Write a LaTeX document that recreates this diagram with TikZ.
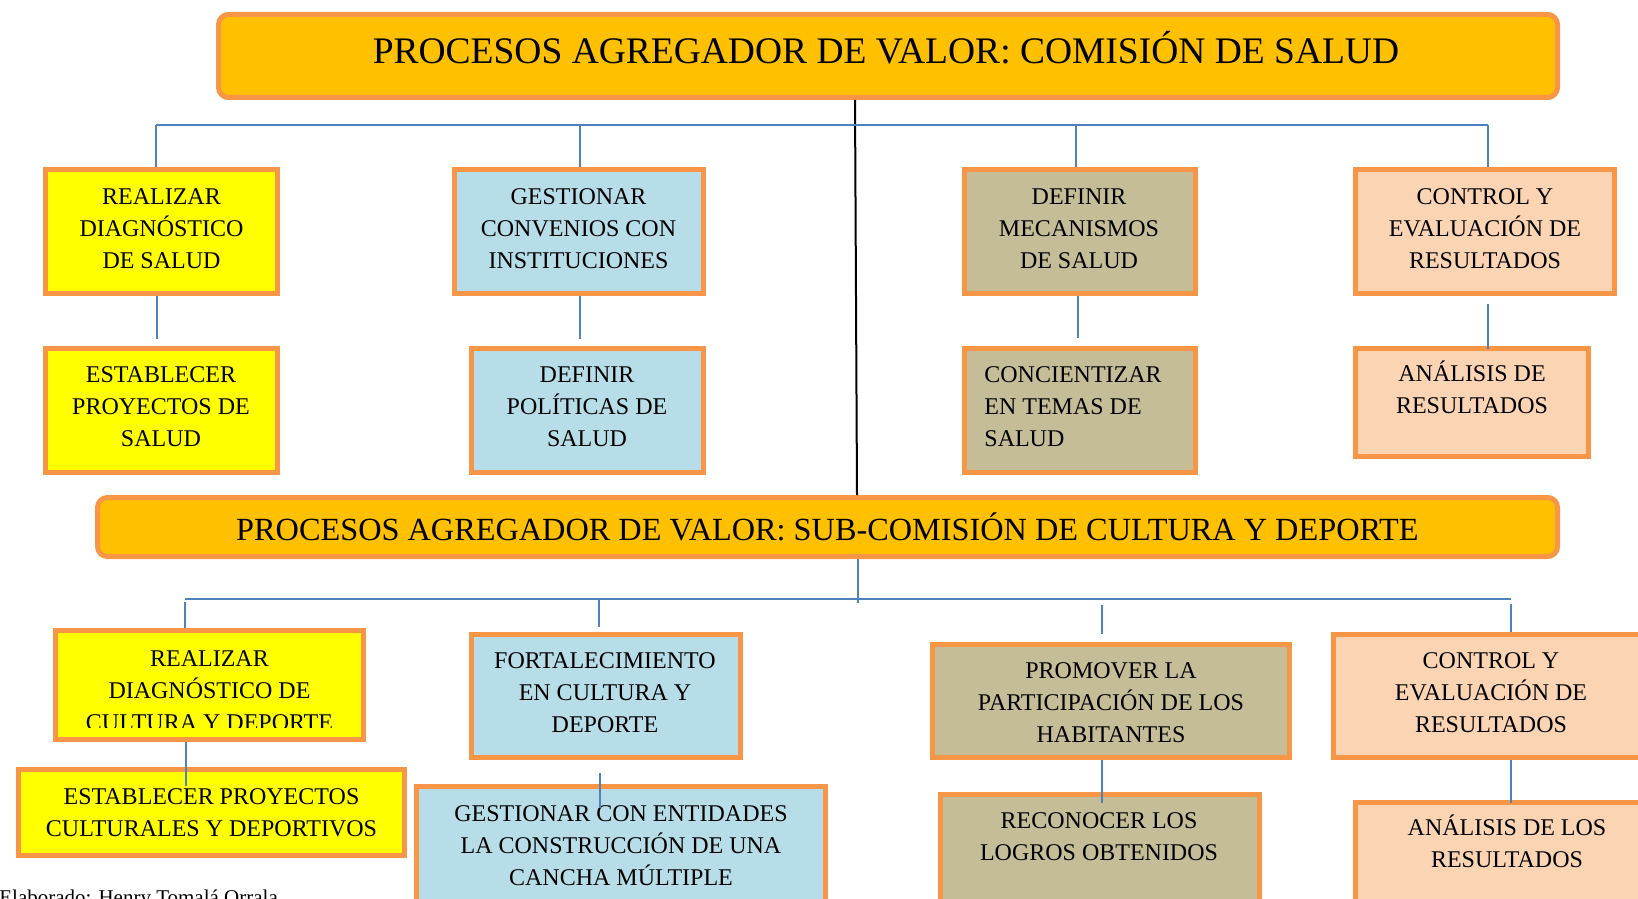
\documentclass[tikz,border=0pt]{standalone}
\usepackage{fontspec}
\setmainfont{Liberation Serif}
\definecolor{goldf}{HTML}{FFC000}
\definecolor{orangeb}{HTML}{F79646}
\definecolor{yellowf}{HTML}{FFFF00}
\definecolor{bluef}{HTML}{B7DEE8}
\definecolor{tanf}{HTML}{C4BD97}
\definecolor{peachf}{HTML}{FBD4B4}
\definecolor{connb}{HTML}{4F81BD}
\newcommand{\mybox}[6]{\node[#2, minimum width={(#5-#3-5)*0.5pt}, minimum height={(#6-#4-5)*0.5pt}] (#1) at ({(#3+#5)/2},{(#4+#6)/2}) {};}
\begin{document}
\begin{tikzpicture}[x=0.5pt,y=-0.5pt,
  pbox/.style={draw=orangeb, line width=2.5pt, inner sep=0pt, fill=#1},
  tbox/.style={draw=orangeb, line width=2.5pt, inner sep=0pt, fill=goldf, rounded corners=5pt},
  txt/.style={align=center, inner sep=0pt, font=\fontsize{12}{16}\selectfont},
  ltxt/.style={align=left, inner sep=0pt, font=\fontsize{12}{16}\selectfont},
  conn/.style={draw=connb, line width=1pt},
  axis/.style={draw=black, line width=1pt}]
\useasboundingbox (0,0) rectangle (1638,899);
\clip (0,0) rectangle (1638,899);

% ---------- top part ----------
\mybox{T1}{tbox}{216}{12}{1560}{100}
\node[anchor=base, inner sep=0pt, font=\fontsize{18.75}{22}\selectfont] (T1t) at (886,63.5) {PROCESOS AGREGADOR DE VALOR: COMISIÓN DE SALUD};

\mybox{A1}{pbox=yellowf}{43}{167}{280}{296}
\mybox{B1}{pbox=bluef}{452}{167}{706}{296}
\mybox{C1}{pbox=tanf}{962}{167}{1198}{296}
\mybox{D1}{pbox=peachf}{1353}{167}{1617}{296}

\mybox{A2}{pbox=yellowf}{43}{346}{280}{475}
\mybox{B2}{pbox=bluef}{469}{346}{706}{475}
\mybox{C2}{pbox=tanf}{962}{346}{1198}{475}
\mybox{D2}{pbox=peachf}{1353}{346}{1591}{459}

\node[txt] (A1t) at (161.5,228.5) {REALIZAR\\DIAGNÓSTICO\\DE SALUD};
\node[txt] (B1t) at (578.5,228.5) {GESTIONAR\\CONVENIOS CON\\INSTITUCIONES};
\node[txt] (C1t) at (1079,228.5) {DEFINIR\\MECANISMOS\\DE SALUD};
\node[txt] (D1t) at (1485,228.5) {CONTROL Y\\EVALUACIÓN DE\\RESULTADOS};
\node[txt] (A2t) at (161,406.5) {ESTABLECER\\PROYECTOS DE\\SALUD};
\node[txt] (B2t) at (587,406.5) {DEFINIR\\POLÍTICAS DE\\SALUD};
\node[ltxt, anchor=west] (C2t) at (984,406.5) {CONCIENTIZAR\\EN TEMAS DE\\SALUD};
\node[txt] (D2t) at (1472,387.5) {ANÁLISIS DE\\RESULTADOS};

% ---------- bottom part ----------
\mybox{T2}{tbox}{95}{495}{1560}{559}
\node[anchor=base, inner sep=0pt, font=\fontsize{16.15}{20}\selectfont] (T2t) at (827.5,540.5) {PROCESOS AGREGADOR DE VALOR: SUB-COMISIÓN DE CULTURA Y DEPORTE};

\mybox{A3}{pbox=yellowf}{53}{628}{366}{742}
\mybox{B3}{pbox=bluef}{469}{632}{743}{760}
\mybox{C3}{pbox=tanf}{930}{642}{1292}{760}
\mybox{D3}{pbox=peachf}{1331}{632}{1651}{760}

\mybox{A4}{pbox=yellowf}{16}{767}{407}{858}
\mybox{B4}{pbox=bluef}{414}{784}{828}{915}
\mybox{C4}{pbox=tanf}{938}{792}{1262}{915}
\mybox{D4}{pbox=peachf}{1353}{800}{1661}{915}

\begin{scope}
\clip (53,620) rectangle (366,727);
\node[txt] (A3t) at (209.5,690.5) {REALIZAR\\DIAGNÓSTICO DE\\CULTURA Y DEPORTE};
\end{scope}
\node[txt] (B3t) at (605,692.5) {FORTALECIMIENTO\\EN CULTURA Y\\DEPORTE};
\node[txt] (C3t) at (1111,702.5) {PROMOVER LA\\PARTICIPACIÓN DE LOS\\HABITANTES};
\node[txt] (D3t) at (1491,692.5) {CONTROL Y\\EVALUACIÓN DE\\RESULTADOS};
\node[txt] (A4t) at (211.5,812.5) {ESTABLECER PROYECTOS\\CULTURALES Y DEPORTIVOS};
\node[txt] (B4t) at (621,845.5) {GESTIONAR CON ENTIDADES\\LA CONSTRUCCIÓN DE UNA\\CANCHA MÚLTIPLE};
\node[txt] (C4t) at (1099,836.5) {RECONOCER LOS\\LOGROS OBTENIDOS};
\node[txt] (D4t) at (1507,841.5) {ANÁLISIS DE LOS\\RESULTADOS};

\node[anchor=base west, inner sep=0pt, font=\fontsize{10.5}{13}\selectfont] (elab) at (-1,904) {Elaborado: Henry Tomalá Orrala};

% ---------- connectors ----------
\draw[axis] (T1.south -| 855,0) -- (T2.north -| 857,0);

\coordinate (barL) at (156,125);
\coordinate (barB) at (580,125);
\coordinate (barC) at (1076,125);
\coordinate (barR) at (1488,125);
\draw[conn] (barL) -- (barR);
\draw[conn] (barL) -- (barL |- A1.north);
\draw[conn] (barB) -- (barB |- B1.north);
\draw[conn] (barC) -- (barC |- C1.north);
\draw[conn] (barR) -- (barR |- D1.north);

\draw[conn, shorten >=3.5pt] (A1.south -| 157,0) -- (A2.north -| 157,0);
\draw[conn, shorten >=3.5pt] (B1.south -| 580,0) -- (B2.north -| 580,0);
\draw[conn, shorten >=4pt] (C1.south -| 1078,0) -- (C2.north -| 1078,0);
\draw[conn, shorten <=4pt, shorten >=-1.5pt] (D1.south -| 1488,0) -- (D2.north -| 1488,0);

\coordinate (bar2M) at (858,603);
\coordinate (bar2L) at (185,599);
\coordinate (bar2R) at (1511,599);
\coordinate (v3a) at (185,602);
\coordinate (v3b) at (599,598);
\coordinate (v3c) at (1101.5,605);
\coordinate (v3d) at (1511,604);
\draw[conn] (T2.south -| 858,0) -- (bar2M);
\draw[conn] (bar2L) -- (bar2R);
\draw[conn] (v3a) -- (v3a |- A3.north);
\draw[conn, shorten >=2.5pt] (v3b) -- (v3b |- B3.north);
\draw[conn, shorten >=4pt] (v3c) -- (v3c |- C3.north);
\draw[conn] (v3d) -- (v3d |- D3.north);

\draw[conn, shorten >=-9.5pt] (A3.south -| 186,0) -- (A4.north -| 186,0);
\draw[conn, shorten <=6.5pt, shorten >=-12pt] (B3.south -| 600,0) -- (B4.north -| 600,0);
\draw[conn, shorten >=-5.5pt] (C3.south -| 1102,0) -- (C4.north -| 1102,0);
\draw[conn, shorten >=-1.5pt] (D3.south -| 1511,0) -- (D4.north -| 1511,0);
\end{tikzpicture}
\end{document}
